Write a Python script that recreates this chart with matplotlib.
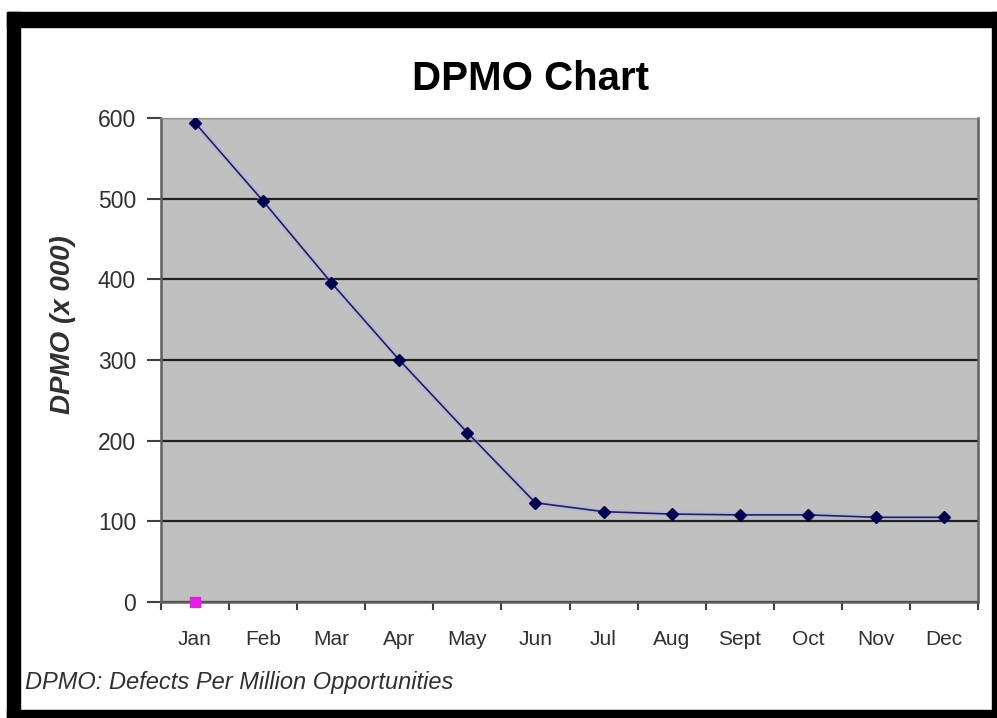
import matplotlib.pyplot as plt
from matplotlib.patches import Rectangle

plt.rcParams['font.family'] = ['Liberation Sans', 'DejaVu Sans']

months = ['Jan', 'Feb', 'Mar', 'Apr', 'May', 'Jun', 'Jul', 'Aug', 'Sept', 'Oct', 'Nov', 'Dec']
dpmo = [594, 497, 396, 300, 210, 123, 112, 109, 108, 108, 105, 105]
target_month = ['Jan']
target_value = [0]

W, H = 997, 718
fig = plt.figure(figsize=(W / 100, H / 100), dpi=100)

# frame around the whole chart: heavy top/left, thin right/bottom
def px_rect(x0, y0, x1, y1):
    fig.patches.append(Rectangle((x0 / W, 1 - y1 / H), (x1 - x0) / W, (y1 - y0) / H,
                                 transform=fig.transFigure, color='black', zorder=0))

px_rect(7, 12, W, 27)
px_rect(7, 12, 20, H)
px_rect(7, 710, W, H)
px_rect(992, 12, W, H)

ax = fig.add_axes([161 / W, 1 - 602 / H, 817 / W, 484 / H])
ax.set_facecolor('#c0c0c0')

x = list(range(len(months)))
ax.plot(x, dpmo, color='#b0b0e8', linewidth=4, alpha=0.5, zorder=2)
ax.plot(x, dpmo, color='#20205a', linewidth=1.2, marker='D', markersize=6.5,
        markerfacecolor='#000050', markeredgecolor='#000050', zorder=3)
ax.plot([months.index(m) for m in target_month], target_value, marker='s', markersize=7,
        color='#e020e0', linestyle='none', zorder=4, clip_on=False)

ax.set_xlim(-0.5, len(months) - 0.5)
ax.set_ylim(0, 600)
ax.set_yticks(range(0, 601, 100))
ax.yaxis.grid(True, color='#202020', linewidth=1.6)
ax.set_axisbelow(True)

ax.set_xticks([i - 0.5 for i in range(len(months) + 1)])
ax.set_xticklabels([])
ax.set_xticks(x, minor=True)
ax.set_xticklabels(months, minor=True, fontsize=15, color='#303030')
ax.tick_params(axis='x', which='major', direction='out', length=6, width=1.5, color='#404040')
ax.tick_params(axis='x', which='minor', length=0, pad=20)
ax.tick_params(axis='y', direction='out', length=10, width=1.5, color='#404040',
               labelsize=16.5, labelcolor='#303030', pad=8)

for side in ['left', 'bottom', 'right']:
    ax.spines[side].set_color('#606060')
    ax.spines[side].set_linewidth(1.8)
ax.spines['top'].set_color('#909090')

fig.text(530 / W, 1 - 79 / H, 'DPMO Chart', ha='center', va='center',
         fontsize=29, fontweight='bold')
fig.text(63 / W, 1 - 325 / H, 'DPMO (x 000)', ha='center', va='center', rotation=90,
         fontsize=20, fontweight='bold', style='italic', color='#303030')
fig.text(25 / W, 1 - 683 / H, 'DPMO: Defects Per Million Opportunities', ha='left', va='center',
         fontsize=17, style='italic', color='#303030')

fig.savefig('out.png', dpi=100)
